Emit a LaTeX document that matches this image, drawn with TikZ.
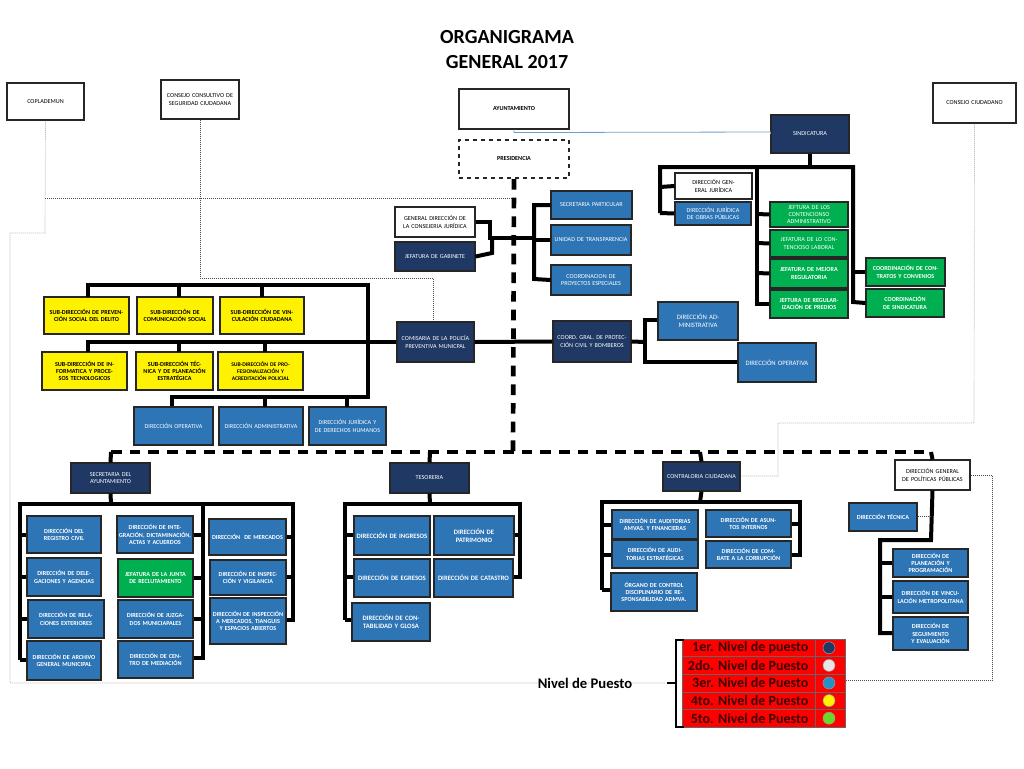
\documentclass[tikz,border=0pt]{standalone}
\usepackage{fontspec}
\setmainfont{Carlito}
\begin{document}
\definecolor{navy}{HTML}{1F3864}
\definecolor{mblue}{HTML}{2E75B6}
\definecolor{gr}{HTML}{00B050}
\definecolor{dred}{HTML}{3A0000}
\newcommand\B[7]{\pgfmathsetmacro\cx{(#3+#5)/2}\pgfmathsetmacro\cy{(#4+#6)/2}\pgfmathsetmacro\w{(#5-#3)*0.75}\pgfmathsetmacro\h{(#6-#4)*0.75}\pgfmathsetmacro\tw{(#5-#3)*0.75-2}\node[#1,minimum width=\w pt,minimum height=\h pt,text width=\tw pt] (#2) at (\cx,\cy) {#7};}
\begin{tikzpicture}[x=0.75pt,y=-0.75pt,
 box/.style={draw=black!85,line width=0.8pt,inner sep=0pt,align=center,font=\fontsize{4.6}{5.4}\selectfont},
 wb/.style={box,fill=white},
 nb/.style={box,fill=navy,text=white},
 bb/.style={box,fill=mblue,text=white,font=\fontsize{4.6}{5.4}\selectfont\bfseries},
 yb/.style={box,fill=yellow,font=\fontsize{4.6}{5.4}\selectfont\bfseries},
 gb/.style={box,fill=gr,text=white,font=\fontsize{4.6}{5.4}\selectfont\bfseries},
 bus/.style={line width=3pt,line join=miter},
 dbus/.style={line width=3.5pt,dash pattern=on 8pt off 6pt},
 dot/.style={densely dotted,line width=0.5pt,black!70}]
\useasboundingbox (0,0) rectangle (1024,768);
\node[font=\fontsize{15}{17}\selectfont\bfseries] (t1) at (507,37) {ORGANIGRAMA};
\node[font=\fontsize{15}{17}\selectfont\bfseries] (t2) at (507,62) {GENERAL 2017};
% top
\B{wb}{cop}{7}{83}{84}{120}{COPLADEMUN}
\B{wb}{ccs}{161}{80}{239}{119}{CONSEJO CONSULTIVO DE SEGURIDAD CIUDADANA}
\B{wb,font=\fontsize{4.6}{5.4}\selectfont\bfseries}{ayu}{459}{89}{569}{129}{AYUNTAMIENTO}
\B{box,dashed,line width=1.5pt,font=\fontsize{4.6}{5.4}\selectfont\bfseries}{pre}{459}{140}{569}{178}{PRESIDENCIA}
\B{nb}{sin}{771}{115}{849}{153}{SINDICATURA}
\B{wb}{cci}{933}{83}{1016}{123}{CONSEJO CIUDADANO}
\draw[mblue!70,line width=0.6pt] (ayu.south) -- ++(0,3) -- (sin.west |- 0,132) -- (sin.west);
% dotted lines
\coordinate (dl) at (10,683);
\draw[dot] (cop.south) -- (45,233) -- (10,233) -- (dl) -- (665,683);
\draw[dot] (45,198) -- (513,198);
\draw[dot] (ccs.south) -- (200,278) -- (433,278) -- (433,322);
% presidencia
\draw[dbus] (pre.south) -- (513,452);
\B{wb}{cons}{395}{207}{475}{237}{GENERAL DIRECCIÓN DE LA CONSEJERIA JURÍDICA}
\B{nb}{gab}{395}{242}{475}{271}{JEFATURA DE GABINETE}
\B{bb,font=\fontsize{4.6}{5.4}\selectfont}{spa}{551}{191}{632}{219}{SECRETARIA PARTICULAR}
\B{bb,font=\fontsize{4.6}{5.4}\selectfont}{utr}{551}{225}{631}{255}{UNIDAD DE TRANSPARENCIA}
\B{bb,font=\fontsize{4.6}{5.4}\selectfont}{cpe}{551}{265}{631}{295}{COORDINACION DE PROYECTOS ESPECIALES}
\draw[bus] (cons.east) -- (490,222) -- (490,238) -- (534,238);
\draw[bus] (gab.east) -- (492,253) -- (492,238);
\draw[bus] (spa.west) -- (534,205) -- (534,279) -- (cpe.west);
\draw[bus] (534,240) -- (utr.west);
% sindicatura
\B{wb}{dgj}{675}{173}{752}{199}{DIRECCIÓN GENERAL JURÍDICA}
\B{bb,font=\fontsize{4.6}{5.4}\selectfont}{djo}{675}{202}{751}{225}{DIRECCIÓN JURÍDICA DE OBRAS PÚBLICAS}
\B{gb,font=\fontsize{4.6}{5.4}\selectfont}{g1}{770}{202}{848}{227}{JEFTURA DE LOS CONTENCIONSO ADMINISTRATIVO}
\B{gb,font=\fontsize{4.6}{5.4}\selectfont}{g2}{770}{230}{848}{257}{JEFATURA DE LO CONTENCIOSO LABORAL}
\B{gb}{g3}{770}{259}{848}{288}{JEFATURA DE MEJORA REGULATORIA}
\B{gb}{g4}{770}{290}{848}{318}{JEFTURA DE REGULARIZACIÓN DE PREDIOS}
\B{gb}{g5}{866}{258}{945}{286}{COORDINACIÓN DE CONTRATOS Y CONVENIOS}
\B{gb}{g6}{866}{289}{944}{317}{COORDINACIÓN DE SINDICATURA}
\draw[bus] (sin.south) -- (810,167);
\draw[bus] (660,213) -- (660,167) -- (853,167) -- (853,302) -- (g6.west);
\draw[bus] (660,187) -- (dgj.west); \draw[bus] (660,213) -- (djo.west);
\draw[bus] (757,167) -- (757,304) -- (g4.west);
\draw[bus] (757,214) -- (g1.west); \draw[bus] (757,243) -- (g2.west); \draw[bus] (757,273) -- (g3.west);
\draw[bus] (853,272) -- (g5.west);
% comisaria
\B{nb}{com}{397}{322}{474}{362}{COMISARIA DE LA POLICÍA PREVENTIVA MUNICPAL}
\B{yb}{y1}{44}{297}{129}{334}{SUB-DIRECCIÓN DE PREVENCIÓN SOCIAL DEL DELITO}
\B{yb}{y2}{137}{297}{213}{334}{SUB-DIRECCIÓN DE COMUNICACIÓN SOCIAL}
\B{yb}{y3}{220}{297}{304}{334}{SUB-DIRECCIÓN DE VINCULACIÓN CIUDADANA}
\B{yb}{y4}{42}{352}{127}{390}{SUB-DIRECCIÓN DE INFORMATICA Y PROCESOS TECNOLOGICOS}
\B{yb}{y5}{136}{352}{213}{390}{SUB-DIRECCIÓN TÉCNICA Y DE PLANEACIÓN ESTRATÉGICA}
\B{yb,font=\fontsize{4.2}{5}\selectfont\bfseries}{y6}{218}{352}{303}{390}{SUB-DIRECCIÓN DE PROFESIONALIZACIÓN Y ACREDITACIÓN POLICIAL}
\B{bb,font=\fontsize{4.6}{5.4}\selectfont}{b1}{134}{407}{213}{445}{DIRECCIÓN OPERATIVA}
\B{bb,font=\fontsize{4.6}{5.4}\selectfont}{b2}{219}{407}{303}{445}{DIRECCIÓN ADMINISTRATIVA}
\B{bb,font=\fontsize{4.6}{5.4}\selectfont}{b3}{309}{407}{386}{445}{DIRECCIÓN JURÍDICA Y DE DERECHOS HUMANOS}
\draw[bus] (88,297) -- (88,285) -- (368,285) -- (368,397) -- (172,397) -- (b1.north -| 172,0);
\draw[bus] (179,285) -- (179,297); \draw[bus] (262,285) -- (262,297);
\draw[bus] (88,352) -- (88,342) -- (com.west);
\draw[bus] (179,342) -- (179,352); \draw[bus] (265,342) -- (265,352);
\draw[bus] (265,397) -- (265,407); \draw[bus] (347,397) -- (347,407);
% proteccion civil
\B{nb}{pc}{553}{321}{631}{362}{COORD. GRAL. DE PROTECCIÓN CIVIL Y BOMBEROS}
\B{bb,font=\fontsize{5}{6}\selectfont}{da}{658}{302}{738}{340}{DIRECCIÓN ADMINISTRATIVA}
\B{bb,font=\fontsize{5}{6}\selectfont}{dop}{738}{343}{816}{382}{DIRECCIÓN OPERATIVA}
\draw[bus] (com.east) -- (pc.west);
\draw[bus] (pc.east) -- (645,342);
\draw[bus] (da.west |- 0,320) -- (645,320) -- (645,362) -- (dop.west |- 0,362);
% second level dashed
\draw[dbus] (111,452) -- (931,452);
\B{nb}{sec}{71}{463}{150}{493}{SECRETARIA DEL AYUNTAMIENTO}
\B{nb}{tes}{390}{463}{469}{493}{TESORERIA}
\B{nb}{con}{663}{462}{740}{491}{CONTRALORIA CIUDADANA}
\B{wb}{pol}{895}{460}{970}{490}{DIRECCIÓN GENERAL DE POLÍTICAS PÚBLICAS}
\draw[bus] (111,452) -- (sec.north); \draw[bus] (430,452) -- (tes.north);
\draw[bus] (700,452) -- (con.north); \draw[bus] (931,452) -- (pol.north);
\draw[dot] (cci.south) -- (974,423) -- (778,423) -- (778,476) -- (con.east |- 0,476);
\draw[dot] (pol.east) -- (992,475) -- (992,680) -- (845,680);
% secretaria
\B{bb}{s1}{27}{516}{101}{553}{DIRECCIÓN DEL REGISTRO CIVIL}
\B{bb}{s2}{27}{558}{101}{596}{DIRECCIÓN DE DELEGACIONES Y AGENCIAS}
\B{bb}{s3}{28}{600}{104}{638}{DIRECCIÓN DE RELACIONES EXTERIORES}
\B{bb}{s4}{27}{641}{101}{680}{DIRECCIÓN DE ARCHIVO GENERAL MUNICIPAL}
\B{bb}{s5}{117}{516}{193}{553}{DIRECCIÓN DE INTEGRACIÓN, DICTAMINACIÓN, ACTAS Y ACUERDOS}
\B{gb,font=\fontsize{4.6}{5.4}\selectfont\bfseries}{s6}{118}{559}{193}{597}{JEFATURA DE LA JUNTA DE RECLUTAMIENTO}
\B{bb}{s7}{118}{600}{193}{638}{DIRECCIÓN DE JUZGADOS MUNICIAPALES}
\B{bb}{s8}{118}{641}{193}{678}{DIRECCIÓN DE CENTRO DE MEDIACIÓN}
\B{bb}{s9}{209}{519}{286}{555}{DIRECCIÓN \ DE MERCADOS}
\B{bb}{s10}{210}{560}{286}{595}{DIRECCIÓN DE INSPECCIÓN Y VIGILANCIA}
\B{bb}{s11}{210}{598}{286}{644}{DIRECCIÓN DE INSPECCIÓN \ A MERCADOS, TIANGUIS Y ESPACIOS ABIERTOS}
\draw[bus] (sec.south) -- (111,504);
\draw[bus] (20,660) -- (20,504) -- (293,504) -- (293,620) -- (s11.east |- 0,620);
\draw[bus] (203,504) -- (203,658) -- (s8.east |- 0,658);
\foreach \y/\n in {535/s1,577/s2,619/s3,660/s4} \draw[bus] (20,\y) -- (\n.west |- 0,\y);
\foreach \y/\n in {535/s5,578/s6,619/s7} \draw[bus] (203,\y) -- (\n.east |- 0,\y);
\foreach \y/\n in {537/s9,577/s10} \draw[bus] (293,\y) -- (\n.east |- 0,\y);
% tesoreria
\B{bb,font=\fontsize{5}{6}\selectfont\bfseries}{t1b}{354}{516}{430}{555}{DIRECCIÓN DE INGRESOS}
\B{bb,font=\fontsize{5}{6}\selectfont\bfseries}{t2b}{434}{516}{514}{555}{DIRECCIÓN DE PATRIMONIO}
\B{bb,font=\fontsize{5}{6}\selectfont\bfseries}{t3b}{354}{559}{430}{597}{DIRECCIÓN DE EGRESOS}
\B{bb,font=\fontsize{5}{6}\selectfont\bfseries}{t4b}{434}{559}{513}{597}{DIRECCIÓN DE CATASTRO}
\B{bb,font=\fontsize{5}{6}\selectfont\bfseries}{t5b}{352}{603}{430}{641}{DIRECCIÓN DE CONTABILIDAD Y GLOSA}
\draw[bus] (tes.south) -- (430,504);
\draw[bus] (345,620) -- (345,504) -- (520,504) -- (520,577) -- (t4b.east |- 0,577);
\foreach \y/\n in {535/t1b,577/t3b,620/t5b} \draw[bus] (345,\y) -- (\n.west |- 0,\y);
\draw[bus] (520,535) -- (t2b.east |- 0,535);
% contraloria
\B{bb}{c1}{612}{510}{698}{539}{DIRECCIÓN DE AUDITORIAS AMVAS. Y FINANCIERAS}
\B{bb}{c2}{612}{540}{698}{568}{DIRECCIÓN DE AUDITORIAS ESTRATÉGICAS}
\B{bb}{c3}{611}{573}{697}{611}{ÓRGANO DE CONTROL DISCIPLINARIO DE RESPONSABILIDAD ADMVA.}
\B{bb}{c4}{706}{510}{791}{537}{DIRECCIÓN DE ASUNTOS INTERNOS}
\B{bb}{c5}{706}{541}{791}{568}{DIRECCIÓN DE COMBATE A LA CORRUPCIÓN}
\draw[bus] (con.south) -- (700,502);
\draw[bus] (602,590) -- (602,502) -- (800,502) -- (800,555) -- (c5.east |- 0,555);
\foreach \y/\n in {525/c1,555/c2,590/c3} \draw[bus] (602,\y) -- (\n.west |- 0,\y);
\draw[bus] (800,524) -- (c4.east |- 0,524);
% politicas
\B{bb}{p0}{849}{503}{917}{531}{DIRECCIÓN TÉCNICA}
\B{bb}{p1}{893}{549}{968}{577}{DIRECCIÓN DE PLANEACIÓN Y PROGRAMACIÓN}
\B{bb}{p2}{893}{581}{968}{613}{DIRECCIÓN DE VINCULACIÓN METROPOLITANA}
\B{bb}{p3}{893}{617}{968}{650}{DIRECCIÓN DE SEGUIMIENTO Y EVALUACIÓN}
\draw[bus] (pol.south) -- (931,540) -- (880,540) -- (880,633) -- (p3.west |- 0,633);
\draw[bus] (880,563) -- (p1.west |- 0,563); \draw[bus] (880,597) -- (p2.west |- 0,597);
\draw[dot] (p0.east |- 0,516) -- (931,516);
% legend
\node[font=\fontsize{11}{13}\selectfont\bfseries] (np) at (585,683) {Nivel de Puesto};
\foreach \i/\t/\c in {0/1er. Nivel de puesto/navy,1/2do. Nivel de Puesto/black!10,2/3er. Nivel de Puesto/mblue!80!cyan,3/4to. Nivel de Puesto/yellow,4/5to. Nivel de Puesto/green!50!lime!70!gray}{
 \pgfmathsetmacro\ya{639+\i*17.6}\pgfmathsetmacro\yb{639+(\i+1)*17.6}\pgfmathsetmacro\ym{639+(\i+0.5)*17.6}
 \fill[red] (682,\ya) rectangle (845,\yb);
 \draw[black!60,line width=0.4pt] (682,\ya) rectangle (815,\yb) (815,\ya) rectangle (845,\yb);
 \node[font=\fontsize{10.5}{12}\selectfont\bfseries,text=dred,anchor=east] (L\i) at (813,\ym) {\t};
 \fill[\c,draw=black!40] (829,\ym) circle (6);}
\draw[line width=2pt] (684,640) -- (676,640) -- (676,727) -- (684,727) (676,683) -- (667,683);
\end{tikzpicture}
\end{document}
